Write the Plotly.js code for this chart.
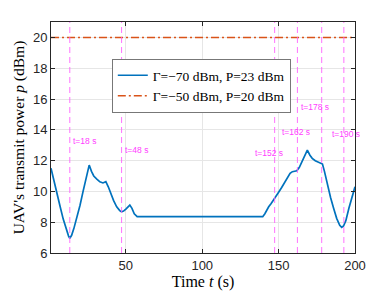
<!DOCTYPE html>
<html><head><meta charset="utf-8">
<script src="https://cdn.plot.ly/plotly-3.0.1.min.js"></script>
<style>html,body{margin:0;padding:0;background:#fff}#c{width:392px;height:294px}</style>
</head><body><div id="c"></div>
<script>
// Blue series: Γ=−70 dBm, P=23 dBm
const tBlue = [1, 3, 5, 7, 9, 11, 12.5, 13.3, 14.5, 16, 18, 20, 22, 24, 26, 27.5, 29, 31, 33, 35, 36.9, 38.5, 40, 42, 44, 46, 47.2, 48.5, 50, 52.6, 54, 55.5, 57.4, 100, 139.6, 141, 142.5, 143.5, 145, 147.6, 150, 152, 155, 157.5, 159, 161.9, 163.5, 165.5, 168.8, 170.5, 172, 174, 176.5, 178.7, 180, 182, 184, 186, 188, 190, 191.3, 192.5, 194, 196, 198, 200];
const pBlue = [11.5, 10.6, 9.8, 9.0, 8.2, 7.5, 7.1, 6.95, 7.15, 7.6, 8.3, 9.1, 10.0, 10.9, 11.71, 11.3, 11.0, 10.8, 10.62, 10.55, 10.63, 10.3, 9.85, 9.4, 9.0, 8.75, 8.68, 8.72, 8.85, 9.11, 8.9, 8.55, 8.36, 8.36, 8.36, 8.55, 8.85, 9.0, 9.2, 9.55, 9.95, 10.25, 10.75, 11.17, 11.28, 11.34, 11.55, 11.95, 12.68, 12.35, 12.15, 11.99, 11.85, 11.78, 11.3, 10.4, 9.6, 8.9, 8.25, 7.8, 7.67, 7.75, 8.1, 8.9, 9.6, 10.3];
// Red series: Γ=−50 dBm, P=20 dBm
const tRed = [1, 200];
const pRed = [20, 20];
// Marked instants (vertical lines) and their labels
const markX = [13.3, 47.2, 147.4, 162.3, 178.2, 192.7];
const markText = ["t=18 s", "t=48 s", "t=152 s", "t=162 s", "t=178 s", "t=190 s"];
const markLabelX = [14.0, 48.0, 133.2, 150.9, 163.3, 183.7];
const markLabelY = [13.3, 12.68, 12.49, 13.87, 15.49, 13.72];
const xTicks = [50, 100, 150, 200];
const yTicks = [6, 8, 10, 12, 14, 16, 18, 20];

const serif = "Liberation Serif, DejaVu Serif, serif";
const sans = "Liberation Sans, Arial, sans-serif";
const magenta = "rgba(255,90,255,0.85)";

const traces = [
  {x: tBlue, y: pBlue, type: "scatter", mode: "lines", name: "Γ=−70 dBm, P=23 dBm",
   line: {color: "#0072BD", width: 1.7}},
  {x: tRed, y: pRed, type: "scatter", mode: "lines", name: "Γ=−50 dBm, P=20 dBm",
   line: {color: "#D95319", width: 1.5, dash: "8px,3px,2px,3px"}}
];

const shapes = markX.map(v => ({type: "line", xref: "x", yref: "paper", x0: v, x1: v, y0: 0, y1: 1,
  line: {color: magenta, width: 1, dash: "6px,4px"}, layer: "above"}));
const annotations = markText.map((s, i) => ({x: markLabelX[i], y: markLabelY[i], xref: "x", yref: "y",
  text: s, showarrow: false, xanchor: "left", yanchor: "middle",
  font: {family: sans, size: 8.5, color: "#ff40ff"}}));

const axisCommon = {showline: true, mirror: "ticks", linecolor: "#262626", linewidth: 1,
  ticks: "inside", ticklen: 4, tickcolor: "#262626", showgrid: true, gridcolor: "#e6e6e6", gridwidth: 1,
  zeroline: false, tickfont: {family: sans, size: 13, color: "#262626"}};

const layout = {
  width: 392, height: 294,
  margin: {l: 51, r: 37, t: 22, b: 41},
  paper_bgcolor: "#fff", plot_bgcolor: "#fff",
  showlegend: true,
  legend: {x: 0.2, y: 0.84, xanchor: "left", yanchor: "top", bgcolor: "#fff",
    bordercolor: "#777", borderwidth: 1, font: {family: serif, size: 13.5, color: "#000"},
    tracegroupgap: 0, itemwidth: 30},
  xaxis: Object.assign({}, axisCommon, {range: [1, 200], tickvals: xTicks,
    title: {text: "Time <i>t</i> (s)", font: {family: serif, size: 16, color: "#000"}, standoff: 2}}),
  yaxis: Object.assign({}, axisCommon, {range: [6, 21], tickvals: yTicks,
    title: {text: "UAV's transmit power <i>p</i> (dBm)", font: {family: serif, size: 15.5, color: "#000"}, standoff: 4}}),
  shapes: shapes,
  annotations: annotations
};
Plotly.newPlot("c", traces, layout, {displayModeBar: false, staticPlot: true});
</script></body></html>
